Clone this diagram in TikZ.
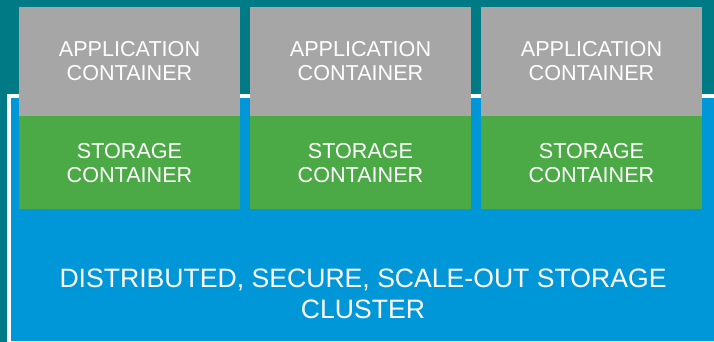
\documentclass[tikz,border=0pt]{standalone}
\usepackage{fontspec}
\setmainfont{Liberation Sans}
\definecolor{tealbg}{HTML}{007A85}
\definecolor{appgray}{HTML}{A6A6A6}
\definecolor{storgreen}{HTML}{4BAA45}
\definecolor{clusterblue}{HTML}{0097D9}
\begin{document}
\begin{tikzpicture}[x=1pt,y=-1pt,
  lbl/.style={text=white,anchor=base,inner sep=0pt,font=\fontsize{21.6}{24}\selectfont},
  biglbl/.style={text=white,anchor=base,inner sep=0pt,font=\fontsize{26.6}{31}\selectfont}]
\useasboundingbox (0,0) rectangle (714,342);
\fill[tealbg] (0,0) rectangle (714,342);
\fill[white] (7,94) rectangle (720,350);
\fill[clusterblue] (11,98) rectangle (720,341);
\foreach \i/\x in {1/19,2/250,3/481}{
  \fill[appgray] (\x,7) rectangle ++(221,109);
  \fill[storgreen] (\x,116) rectangle ++(221,93);
  \node[lbl] (app\i a) at (\x+110.5,57) {APPLICATION};
  \node[lbl] (app\i b) at (\x+110.5,81) {CONTAINER};
  \node[lbl] (st\i a) at (\x+110.5,158) {STORAGE};
  \node[lbl] (st\i b) at (\x+110.5,182.5) {CONTAINER};
}
\node[biglbl] (cl1) at (363,287) {DISTRIBUTED, SECURE, SCALE-OUT STORAGE};
\node[biglbl] (cl2) at (363,318) {CLUSTER};
\end{tikzpicture}
\end{document}
